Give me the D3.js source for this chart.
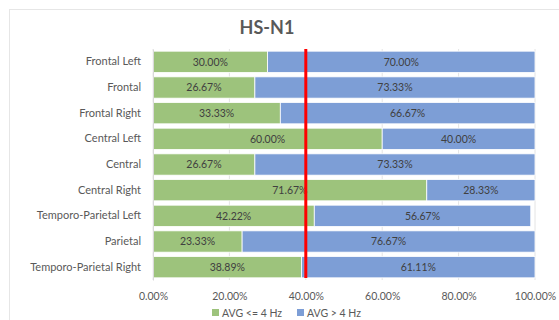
<!DOCTYPE html>
<html>
<head>
<meta charset="utf-8">
<script src="https://cdn.jsdelivr.net/npm/d3@7"></script>
<style>
  html, body { margin: 0; padding: 0; background: #fff; }
  svg { display: block; font-family: Lato, "Open Sans", sans-serif; }
</style>
</head>
<body>
<svg id="chart" width="559" height="320"></svg>
<script>
// Brain regions (top to bottom) and share of samples per frequency band
const regions = ["Frontal Left", "Frontal", "Frontal Right", "Central Left", "Central",
  "Central Right", "Temporo-Parietal Left", "Parietal", "Temporo-Parietal Right"];
const lowBand = [30.00, 26.67, 33.33, 60.00, 26.67, 71.67, 42.22, 23.33, 38.89];
const highBand = [70.00, 73.33, 66.67, 40.00, 73.33, 28.33, 56.67, 76.67, 61.11];
const seriesNames = ["AVG <= 4 Hz", "AVG > 4 Hz"];
const xTicks = [0, 20, 40, 60, 80, 100];
const threshold = 40;

const colors = ["#9dc37c", "#7d9ed6"];
const textColor = "#404040";
const axisColor = "#595959";

const svg = d3.select("#chart");

// outer chart frame
svg.append("rect").attr("x", 9.5).attr("y", 9.5).attr("width", 560).attr("height", 320)
  .attr("fill", "none").attr("stroke", "#e6e6e6");

const x = d3.scaleLinear().domain([0, 100]).range([153, 535]);
const y = d3.scaleBand().domain(regions).range([49, 280]).paddingInner(0.17).paddingOuter(0.085);

// vertical gridlines
svg.append("g").selectAll("line").data(xTicks).join("line")
  .attr("x1", d => x(d)).attr("x2", d => x(d))
  .attr("y1", 49).attr("y2", 280)
  .attr("stroke", "#e4e4e4").attr("stroke-width", 1);

// stacked segments
const rows = regions.map((r, i) => ({ region: r, low: lowBand[i], high: highBand[i] }));
const stack = d3.stack().keys(["low", "high"])(rows);

const layers = svg.append("g").selectAll("g").data(stack).join("g")
  .attr("fill", (d, i) => colors[i]);

layers.selectAll("rect").data(d => d).join("rect")
  .attr("x", d => x(d[0]))
  .attr("y", d => y(d.data.region))
  .attr("width", d => x(d[1]) - x(d[0]))
  .attr("height", y.bandwidth())
  .attr("stroke", "#fff").attr("stroke-width", 0.8);

// data labels centered on each segment
layers.selectAll("text").data(d => d).join("text")
  .attr("x", d => (x(d[0]) + x(d[1])) / 2)
  .attr("y", d => y(d.data.region) + y.bandwidth() / 2)
  .attr("dy", "0.35em")
  .attr("text-anchor", "middle")
  .attr("fill", textColor)
  .attr("font-size", 10.5)
  .text(d => (d[1] - d[0]).toFixed(2) + "%");

// category axis
const yAxis = svg.append("g").attr("transform", "translate(153,0)")
  .call(d3.axisLeft(y).tickSize(0).tickPadding(12));
yAxis.select(".domain").attr("stroke", "#d9d9d9");
yAxis.selectAll("text").attr("fill", axisColor).attr("font-size", 11)
  .attr("font-family", "Lato, 'Open Sans', sans-serif");

// value axis
const xAxis = svg.append("g").attr("transform", "translate(0,288)")
  .call(d3.axisBottom(x).tickValues(xTicks).tickSize(0).tickPadding(5)
    .tickFormat(d => d.toFixed(2) + "%"));
xAxis.select(".domain").remove();
xAxis.selectAll("text").attr("fill", axisColor).attr("font-size", 10.5)
  .attr("font-family", "Lato, 'Open Sans', sans-serif");

// threshold marker
svg.append("line")
  .attr("x1", x(threshold)).attr("x2", x(threshold))
  .attr("y1", 49).attr("y2", 278)
  .attr("stroke", "#ff0000").attr("stroke-width", 3);

// title
svg.append("text").attr("x", 267).attr("y", 34).attr("text-anchor", "middle")
  .attr("font-size", 18).attr("font-weight", "bold").attr("fill", axisColor)
  .text("HS-N1");

// legend
const legend = svg.append("g").attr("transform", "translate(212,313)");
const legendX = [0, 85];
seriesNames.forEach((name, i) => {
  const g = legend.append("g").attr("transform", `translate(${legendX[i]},0)`);
  g.append("rect").attr("x", 0).attr("y", -4).attr("width", 7).attr("height", 7).attr("fill", colors[i]);
  g.append("text").attr("x", 10).attr("y", 0).attr("dy", "0.35em")
    .attr("font-size", 10.5).attr("fill", axisColor).text(name);
});
</script>
</body>
</html>
